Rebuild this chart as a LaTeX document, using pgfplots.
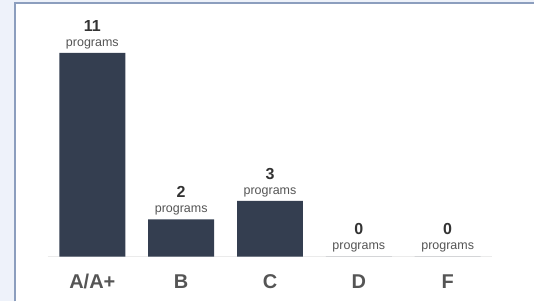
\documentclass[border=0pt]{standalone}
\usepackage{pgfplots}
\pgfplotsset{compat=1.18}
\usepackage{fontspec}
\setmainfont{Liberation Sans}
\definecolor{barcol}{HTML}{343E50}
\definecolor{bgcol}{HTML}{EEF2FA}
\definecolor{framecol}{HTML}{8C9EBE}
\definecolor{labcol}{HTML}{555555}
\definecolor{numcol}{HTML}{333333}
\definecolor{basecol}{HTML}{EBEBEB}
\begin{document}
\begin{tikzpicture}[x=1pt,y=1pt]
\fill[bgcol] (0,0) rectangle (535,302);
\fill[white] (15,0) rectangle (535,299);
\draw[framecol, line width=2pt] (15,0) -- (15,299) -- (535,299);
\begin{axis}[
  at={(48pt,45pt)}, anchor=south west,
  scale only axis, width=445pt, height=204pt,
  xmin=-0.5, xmax=4.5, ymin=0, ymax=11,
  clip=false,
  hide y axis,
  axis x line*=bottom,
  x axis line style={draw=basecol, line width=1.5pt, -},
  major tick length=0pt,
  xtick={0,1,2,3,4},
  xticklabels={A/A+,B,C,D,F},
  xticklabel style={font=\fontsize{20}{22}\selectfont\bfseries, text=labcol, anchor=center, yshift=-25pt},
  /pgf/number format/assume math mode=true,
  ybar, bar width=66pt,
  nodes near coords={{\fontsize{16}{17}\selectfont\bfseries\pgfmathprintnumber{\pgfplotspointmeta}}\\[3pt]{\fontsize{12.5}{13}\selectfont\color{labcol}programs}},
  every node near coord/.append style={align=center, text=numcol, anchor=south, yshift=2pt, inner sep=2pt},
]
\addplot[fill=barcol, draw=none] coordinates {(0,11) (1,2) (2,3) (3,0) (4,0)};
\end{axis}
\end{tikzpicture}
\end{document}
